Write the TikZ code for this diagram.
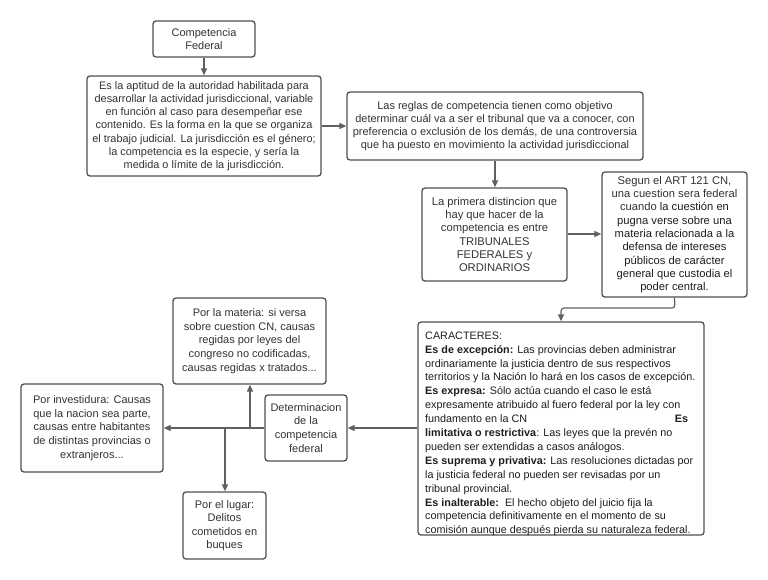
\documentclass[tikz,border=0pt]{standalone}
\usepackage{fontspec}
\setmainfont{Liberation Sans}
\usetikzlibrary{arrows.meta}
\definecolor{boxc}{HTML}{505050}
\definecolor{linec}{HTML}{606060}
\definecolor{txt}{HTML}{333333}
\definecolor{txtd}{HTML}{1E1E1E}
\tikzset{
  box/.style={draw=boxc, line width=1.3pt, rounded corners=3pt, inner sep=0pt,
    align=center, text=txt, font=\fontsize{11}{13.5}\selectfont},
  conn/.style={draw=linec, line width=1.2pt, -{Triangle[length=7pt,width=6pt]}},
}
\begin{document}
\begin{tikzpicture}[x=1pt,y=-1pt]
\fill[white] (0,0) rectangle (768,579);
\useasboundingbox (0,0) rectangle (768,579);

\node[box, minimum width=102pt, minimum height=36pt] (b1) at (204,39)
  {Competencia\\Federal};
\node[box, minimum width=234pt, minimum height=100pt,
  font=\fontsize{10.9}{13.2}\selectfont] (b2) at (204,126)
  {Es la aptitud de la autoridad habilitada para\\
   desarrollar la actividad jurisdiccional, variable\\
   en función al caso para desempeñar ese\\
   contenido. Es la forma en la que se organiza\\
   el trabajo judicial. La jurisdicción es el género;\\
   la competencia es la especie, y sería la\\
   medida o límite de la jurisdicción.};
\node[box, minimum width=296pt, minimum height=68pt,
  font=\fontsize{11}{13.1}\selectfont] (b3) at (495,126)
  {Las reglas de competencia tienen como objetivo\\
   determinar cuál va a ser el tribunal que va a conocer, con\\
   preferencia o exclusión de los demás, de una controversia\\
   que ha puesto en movimiento la actividad jurisdiccional};
\node[box, minimum width=145pt, minimum height=93pt,
  font=\fontsize{11.2}{13.3}\selectfont] (b4) at (494.5,234.5)
  {La primera distincion que\\hay que hacer de la\\competencia es entre\\TRIBUNALES\\FEDERALES y\\ORDINARIOS};
\node[box, minimum width=145pt, minimum height=125pt,
  font=\fontsize{11.2}{13.3}\selectfont] (b5) at (674.5,234.5)
  {Segun el ART 121 CN,\\una cuestion sera federal\\cuando \textcolor{txtd}{la cuestión en}\\\textcolor{txtd}{pugna verse sobre una}\\\textcolor{txtd}{materia relacionada a la}\\\textcolor{txtd}{defensa de intereses}\\\textcolor{txtd}{públicos de carácter}\\\textcolor{txtd}{general que custodia el}\\\textcolor{txtd}{poder central.}};
\node[box, minimum width=286pt, minimum height=213pt] (b6) at (561,428.5) {};
\node[anchor=north west, inner sep=0pt, align=left, text=txtd,
  font=\fontsize{10.8}{13.9}\selectfont] (b6t) at (425,331.5)
  {CARACTERES:\\
   \textbf{Es de excepción:} Las provincias deben administrar\\
   ordinariamente la justicia dentro de sus respectivos\\
   territorios y la Nación lo hará en los casos de excepción.\\
   \textbf{Es expresa:} Sólo actúa cuando el caso le está\\
   expresamente atribuido al fuero federal por la ley con\\
   \makebox[263pt][l]{fundamento en la CN\hfill\textbf{Es}}\\
   \textbf{limitativa o restrictiva}: Las leyes que la prevén no\\
   pueden ser extendidas a casos análogos.\\
   \textbf{Es suprema y privativa:} Las resoluciones dictadas por\\
   la justicia federal no pueden ser revisadas por un\\
   tribunal provincial.\\
   \textbf{Es inalterable:}\ \ El hecho objeto del juicio fija la\\
   competencia definitivamente en el momento de su\\
   comisión aunque después pierda su naturaleza federal.};
\node[box, minimum width=82pt, minimum height=66pt,
  font=\fontsize{11}{13.9}\selectfont] (b7) at (306,428)
  {Determinacion\\de la\\competencia\\federal};
\node[box, minimum width=153pt, minimum height=86pt,
  font=\fontsize{11}{13.75}\selectfont] (b8) at (249.5,341)
  {Por la materia: si versa\\sobre cuestion CN, causas\\regidas por leyes del\\congreso no codificadas,\\causas regidas x tratados...};
\node[box, minimum width=142pt, minimum height=88pt,
  font=\fontsize{11}{13.6}\selectfont] (b9) at (92,428)
  {Por investidura: Causas\\que la nacion sea parte,\\causas entre habitantes\\de distintas provincias o\\extranjeros...};
\node[box, minimum width=83pt, minimum height=67pt,
  font=\fontsize{11}{13.3}\selectfont] (b10) at (224.5,525.5)
  {Por el lugar:\\Delitos\\cometidos en\\buques};

\coordinate (k1) at (675,308);
\coordinate (k2) at (561,308);
\coordinate (j1) at (250,428);
\coordinate (j2) at (225,428);

\draw[conn] (b1) -- (b2);
\draw[conn] (b2) -- (b3);
\draw[conn] (b3) -- (b4.north -| b3.south);
\draw[conn] (b4.east |- 0,234) -- (b5.west |- 0,234);
\draw[conn, rounded corners=3pt] (b5.south) -- (k1) -- (k2) -- (b6.north);
\draw[conn] (b6.west |- b7.east) -- (b7.east);
\draw[conn] (b7.west) -- (b9.east);
\draw[conn] (j1) -- (b8.south -| j1);
\draw[conn] (j2) -- (b10.north -| j2);
\end{tikzpicture}
\end{document}
